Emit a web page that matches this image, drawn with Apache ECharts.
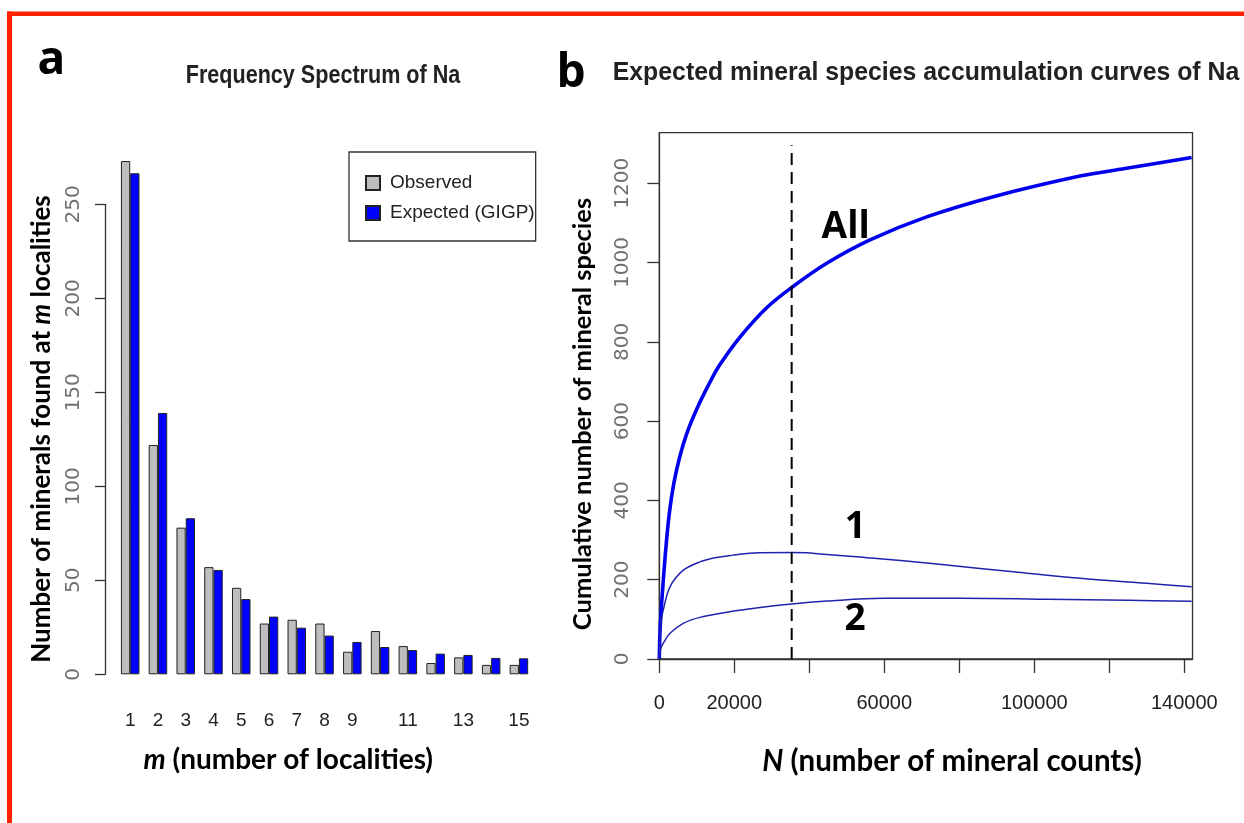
<!DOCTYPE html>
<html><head><meta charset="utf-8">
<script src="https://cdn.jsdelivr.net/npm/echarts@6/dist/echarts.min.js"></script>
<style>html,body{margin:0;padding:0;background:#fff}#c{width:1244px;height:823px}</style>
</head><body><div id="c"></div>
<script>
// ---------- Panel a data ----------
const categories = ['1','2','3','4','5','6','7','8','9','10','11','12','13','14','15'];
const shownCategoryLabels = ['1','2','3','4','5','6','7','8','9','11','13','15'];
const observed = [273, 122, 78, 57, 46, 27, 29, 27, 12, 23, 15, 6, 9, 5, 5];
const expected = [266.5, 139, 83, 55.5, 40, 30.7, 24.8, 20.6, 17.2, 14.5, 12.9, 11.0, 10.3, 8.7, 8.5];
const yTicksA = [0, 50, 100, 150, 200, 250];

// ---------- Panel b data ----------
const allN = [0, 150, 450, 1070, 1780, 2670, 3910, 5510, 7300, 9970, 13070, 16000, 21520, 28640, 35300, 44640, 56190, 71300, 89070, 112190, 124190, 141950];
const allS = [0, 60, 115, 199, 283, 367, 445, 512, 568, 630, 690, 740, 812, 886, 937, 998, 1057, 1115, 1166, 1218, 1237, 1265];
const v1N = [0, 400, 1070, 2850, 6400, 10850, 15300, 19730, 23300, 26850, 35300, 39300, 42850, 53520, 58850, 71300, 76640, 94400, 112190, 129970, 141970];
const v1S = [0, 90, 124, 182, 224, 245, 256, 262, 266, 268, 268.5, 268, 265, 257, 253, 242, 237, 220, 203.5, 191, 182];
const v2N = [0, 270, 1070, 2850, 6400, 10850, 18000, 26850, 35300, 44640, 59730, 80190, 103300, 124990, 141970];
const v2S = [0, 23, 40, 65, 90, 105, 118, 130, 139, 146, 153, 153, 151, 148, 145.5];
const markerN = [35300, 35300];
const markerS = [0, 1296];
const yTicksB = [0, 200, 400, 600, 800, 1000, 1200];
const xTicksB = [0, 20000, 40000, 60000, 80000, 100000, 120000, 140000];
const xLabelsB = [0, 20000, 60000, 100000, 140000];
const curveLabelText = ['All', '1', '2'];
const curveLabelN = [49700, 52300, 52200];
const curveLabelS = [1088, 332, 101];

const R_FONT = "'Liberation Sans',Arial,sans-serif";
const TICK_FONT = "'DejaVu Sans','Liberation Sans',sans-serif";
const ANN_FONT = "Lato,'Open Sans',sans-serif";
const AX = { color: '#333', width: 1.3 };
const plain = v => String(v);

function rich(size) {
  return {
    n: { fontFamily: ANN_FONT, fontWeight: 'bold', fontSize: size, fill: '#000', color: '#000' },
    i: { fontFamily: ANN_FONT, fontWeight: 'bold', fontStyle: 'italic', fontSize: size, fill: '#000', color: '#000' }
  };
}
function label(text, x, y, opts) {
  return Object.assign({
    type: 'text', x: x, y: y, silent: true,
    style: Object.assign({ text: text, textAlign: 'center', align: 'center', textVerticalAlign: 'middle', verticalAlign: 'middle', fill: '#000' }, opts.style || {})
  }, opts.el || {});
}

const chart = echarts.init(document.getElementById('c'), null, { renderer: 'canvas' });
chart.setOption({
  animation: false,
  backgroundColor: '#fff',
  grid: [
    { left: 116.3, top: 204.3, width: 416.5, height: 470 },
    { left: 659.3, top: 132.7, width: 533.2, height: 526.3, show: true, borderColor: '#333', borderWidth: 1.3 }
  ],
  legend: {
    data: ['Observed', 'Expected (GIGP)'],
    orient: 'vertical', left: 349, top: 152,
    padding: [20, 1, 17, 16],
    borderColor: '#333', borderWidth: 1.3,
    itemWidth: 14, itemHeight: 14, itemGap: 8,
    icon: 'rect',
    textStyle: { fontFamily: R_FONT, fontSize: 19, lineHeight: 22, color: '#222', padding: [0, 0, 0, 5] }
  },
  xAxis: [
    {
      type: 'category', gridIndex: 0, data: categories,
      axisLine: { show: false }, axisTick: { show: false },
      axisLabel: { interval: (i, v) => shownCategoryLabels.includes(v), margin: 37, fontFamily: R_FONT, fontSize: 19, color: '#222' }
    },
    {
      type: 'value', gridIndex: 1, min: 0, max: 142190,
      axisLine: { show: true, lineStyle: AX },
      axisTick: { show: true, length: 14, customValues: xTicksB, lineStyle: AX },
      axisLabel: { customValues: xLabelsB, formatter: plain, margin: 34, fontFamily: R_FONT, fontSize: 20, color: '#222' },
      splitLine: { show: false }
    }
  ],
  yAxis: [
    {
      type: 'value', gridIndex: 0, min: 0, max: 250, interval: 50, offset: 11.3,
      axisLine: { show: true, lineStyle: AX },
      axisTick: { show: true, length: 10, customValues: yTicksA, lineStyle: AX },
      axisLabel: { customValues: yTicksA, formatter: plain, rotate: 90, margin: 21.7, fontFamily: TICK_FONT, fontSize: 20, color: '#707070' },
      splitLine: { show: false }
    },
    {
      type: 'value', gridIndex: 1, min: 0, max: 1327.4,
      axisLine: { show: true, lineStyle: AX },
      axisTick: { show: true, length: 12, customValues: yTicksB, lineStyle: AX },
      axisLabel: { customValues: yTicksB, formatter: plain, rotate: 90, margin: 26.8, fontFamily: TICK_FONT, fontSize: 20, color: '#707070' },
      splitLine: { show: false }
    }
  ],
  series: [
    {
      name: 'Observed', type: 'bar', xAxisIndex: 0, yAxisIndex: 0, data: observed,
      barGap: '0%', barCategoryGap: '33.33%', clip: false,
      itemStyle: { color: '#BEBEBE', borderColor: '#222', borderWidth: 1 }
    },
    {
      name: 'Expected (GIGP)', type: 'bar', xAxisIndex: 0, yAxisIndex: 0, data: expected,
      barGap: '0%', barCategoryGap: '33.33%', clip: false,
      itemStyle: { color: '#0000FF', borderColor: '#222', borderWidth: 1 }
    },
    {
      name: 'All', type: 'line', xAxisIndex: 1, yAxisIndex: 1,
      data: allN.map((n, i) => [n, allS[i]]), symbol: 'none', smooth: 0.35,
      lineStyle: { color: '#0000EE', width: 3.6 }
    },
    {
      name: 'V1', type: 'line', xAxisIndex: 1, yAxisIndex: 1,
      data: v1N.map((n, i) => [n, v1S[i]]), symbol: 'none', smooth: 0.35,
      lineStyle: { color: '#2222B0', width: 1.5 }
    },
    {
      name: 'V2', type: 'line', xAxisIndex: 1, yAxisIndex: 1,
      data: v2N.map((n, i) => [n, v2S[i]]), symbol: 'none', smooth: 0.35,
      lineStyle: { color: '#2222B0', width: 1.5 }
    },
    {
      name: 'marker', type: 'line', xAxisIndex: 1, yAxisIndex: 1,
      data: markerN.map((n, i) => [n, markerS[i]]), symbol: 'none',
      lineStyle: { color: '#000', width: 2, type: [12, 7] }
    },
    {
      name: 'curveLabels', type: 'scatter', xAxisIndex: 1, yAxisIndex: 1, silent: true,
      symbolSize: 1, itemStyle: { color: 'rgba(0,0,0,0)', opacity: 1 },
      data: curveLabelText.map((t, i) => ({ name: t, value: [curveLabelN[i], curveLabelS[i]] })),
      label: { show: true, position: 'inside', formatter: '{b}', fontFamily: "'Open Sans',Lato,sans-serif", fontWeight: 'bold', fontSize: 37, color: '#000', opacity: 1 }
    }
  ],
  graphic: [
    { type: 'rect', silent: true, shape: { x: 7, y: 11.5, width: 1237, height: 4.5 }, style: { fill: '#FF2200' } },
    { type: 'rect', silent: true, shape: { x: 7, y: 11.5, width: 5, height: 812 }, style: { fill: '#FF2200' } },
    label('a', 37.5, 61, { style: { textAlign: 'left', align: 'left', fontFamily: "'Open Sans',sans-serif", fontWeight: 'bold', fontSize: 46 } }),
    label('b', 556.6, 74, { style: { textAlign: 'left', align: 'left', fontFamily: "'Open Sans',sans-serif", fontWeight: 'bold', fontSize: 46 } }),
    label('Frequency Spectrum of Na', 323, 76, { style: { fontFamily: R_FONT, fontWeight: 'bold', fontSize: 26, fill: '#222' }, el: { scaleX: 0.83 } }),
    label('Expected mineral species accumulation curves of Na', 926, 73, { style: { fontFamily: R_FONT, fontWeight: 'bold', fontSize: 26, fill: '#222' }, el: { scaleX: 0.955 } }),
    label('{n|Number of minerals found at }{i|m}{n| localities}', 41.8, 429, { style: { rich: rich(26), fontFamily: ANN_FONT, fontWeight: 'bold', fontSize: 26 }, el: { rotation: Math.PI / 2 } }),
    label('{n|Cumulative number of mineral species}', 582.5, 414, { style: { rich: rich(25.5), fontFamily: ANN_FONT, fontWeight: 'bold', fontSize: 25.5 }, el: { rotation: Math.PI / 2 } }),
    label('{i|m}{n| (number of localities)}', 288.3, 760, { style: { rich: rich(28), fontFamily: ANN_FONT, fontWeight: 'bold', fontSize: 28 } }),
    label('{i|N}{n| (number of mineral counts)}', 952, 761, { style: { rich: rich(29.5), fontFamily: ANN_FONT, fontWeight: 'bold', fontSize: 29.5 } })
  ]
});
</script>
</body></html>
